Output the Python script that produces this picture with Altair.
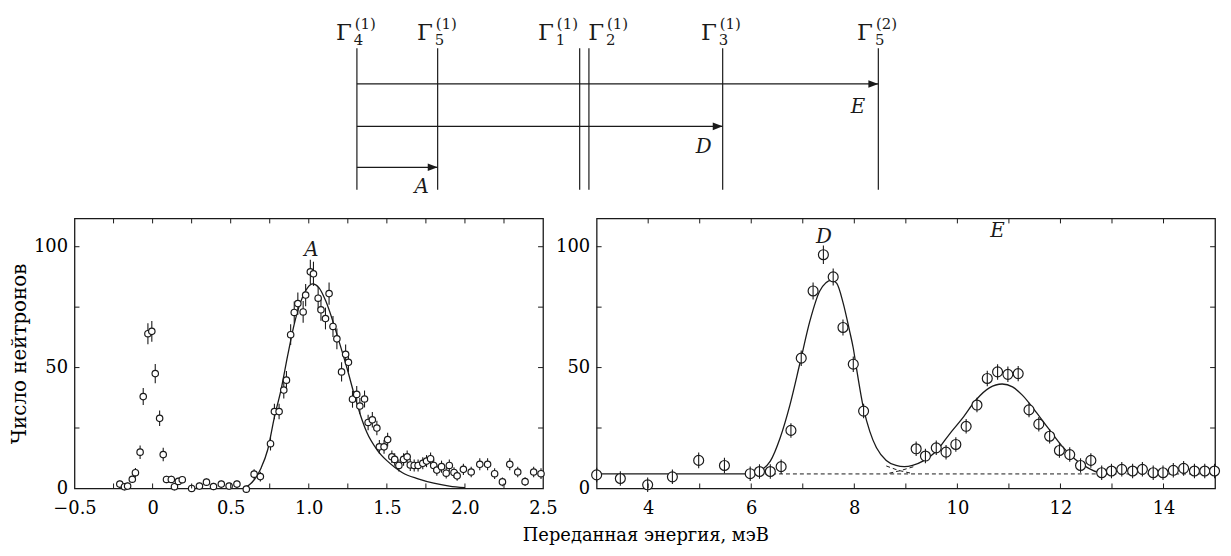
import altair as alt
import pandas as pd

FONT = "DejaVu Serif"

# ---------------- left panel (A) data ----------------
left_x = [-0.21, -0.18, -0.16, -0.13, -0.11, -0.08, -0.06, -0.03, -0.005, 0.017,
          0.045, 0.068, 0.089, 0.12, 0.14, 0.165, 0.19, 0.25, 0.30, 0.345,
          0.39, 0.44, 0.49, 0.54, 0.60, 0.65, 0.69, 0.755, 0.78, 0.81,
          0.84, 0.857, 0.884, 0.907, 0.93, 0.964, 0.98, 1.01, 1.03, 1.06,
          1.078, 1.107, 1.13, 1.155, 1.18, 1.21, 1.236, 1.254, 1.28, 1.307,
          1.327, 1.357, 1.38, 1.407, 1.436, 1.452, 1.482, 1.505, 1.532, 1.55,
          1.577, 1.607, 1.63, 1.65, 1.675, 1.70, 1.73, 1.754, 1.78, 1.80,
          1.82, 1.85, 1.88, 1.90, 1.93, 1.95, 1.99, 2.04, 2.095, 2.145,
          2.19, 2.24, 2.287, 2.338, 2.385, 2.44, 2.487]
left_y = [1.8, 0.7, 1.0, 3.8, 6.5, 15, 38, 64, 65, 47.5,
          29, 14, 3.7, 3.7, 0.7, 2.9, 3.6, 0, 1, 2.6,
          0.8, 1.8, 1, 1.8, -0.3, 5.9, 4.9, 18.5, 31.8, 31.8,
          40.7, 44.8, 63.6, 72.8, 76.5, 73, 80, 89.6, 88.8, 78.7,
          73.9, 70.3, 80.6, 67, 61.9, 48.2, 55.5, 52.2, 36.9, 38.9,
          34.1, 37, 27.3, 28.4, 25, 17.2, 17.2, 20.2, 13.1, 12,
          9.5, 12, 13.1, 9.7, 9.5, 9.5, 10.4, 11.3, 12.3, 9.5,
          7.6, 9, 6.3, 9.5, 6.6, 5.2, 7.9, 6.8, 10, 10,
          6.1, 2.7, 10, 6.8, 2.8, 6.8, 6.1]
left_err = [1.5, 1.5, 1.5, 1.5, 2, 2.8, 3.5, 4.3, 4.3, 4,
            3.2, 2.8, 1.5, 1.5, 1.5, 1.5, 1.5, 1.5, 1.5, 1.5,
            1.5, 1.5, 1.5, 1.5, 1.5, 2, 2, 2.8, 3.2, 3.2,
            3.5, 3.8, 4.3, 4.5, 4.6, 4.5, 4.6, 5, 5, 4.6,
            4.5, 4.5, 4.6, 4.3, 4.3, 4, 4, 4, 3.5, 3.5,
            3.3, 3.5, 3.2, 3.2, 3, 2.8, 2.8, 2.8, 2.6, 2.6,
            2.5, 2.6, 2.6, 2.5, 2.5, 2.5, 2.5, 2.5, 2.6, 2.5,
            2.3, 2.5, 2.2, 2.5, 2.2, 2, 2.3, 2.2, 2.5, 2.5,
            2.2, 1.8, 2.5, 2.2, 1.8, 2.2, 2.2]
fit_left_x = [0.58, 0.62, 0.653, 0.695, 0.737, 0.78, 0.823, 0.865, 0.907, 0.95,
              0.992, 1.024, 1.066, 1.109, 1.16, 1.2, 1.246, 1.289, 1.33, 1.373,
              1.437, 1.5, 1.55, 1.6, 1.7, 1.8, 1.9, 2.0]
fit_left_y = [0, 1.5, 3.8, 8.5, 16, 29.5, 41, 55, 68, 77.5,
              83, 84.6, 83, 77.5, 68, 59.5, 49.5, 39.3, 30.5, 23,
              16, 11.5, 8.8, 6.5, 4, 2.2, 1, 0.3]

# ---------------- right panel (D, E) data ----------------
right_x = [3.0, 3.46, 3.99, 4.47, 4.98, 5.48, 5.98, 6.16, 6.37, 6.58,
           6.77, 6.97, 7.2, 7.4, 7.59, 7.78, 7.98, 8.18,
           9.2, 9.38, 9.59, 9.78, 9.97, 10.17, 10.38, 10.58, 10.78, 10.98, 11.18,
           11.39, 11.58, 11.79, 11.98, 12.18, 12.39, 12.59,
           12.8, 12.99, 13.19, 13.4, 13.59, 13.8, 13.99, 14.19, 14.39, 14.6, 14.8, 14.99]
right_y = [5.6, 4.1, 1.5, 4.8, 11.6, 9.5, 6.1, 7, 7, 9,
           24, 53.9, 81.7, 96.7, 87.5, 66.6, 51.4, 32,
           16.4, 13.4, 16.8, 15, 18.2, 25.7, 34.5, 45.5, 48.2, 47.2, 47.5,
           32.5, 26.6, 21.6, 15.7, 14, 9.5, 11.6,
           6.5, 7.2, 7.9, 7.2, 7.9, 6.5, 6.5, 7.5, 8.3, 7.2, 7.2, 7.2]
right_err = [3, 3, 3, 3, 3.3, 3.2, 3, 3, 3, 3,
             3, 3.2, 3.5, 3.8, 3.5, 3.3, 3.2, 3,
             3, 3, 3, 3, 3, 3, 3, 3.2, 3.2, 3.2, 3.2,
             3, 3, 3, 3, 3, 3, 3,
             3, 3, 3, 3, 3, 3, 3, 3, 3, 3, 3, 3]
fit_right_x = [3.0, 6.0, 6.17, 6.37, 6.56, 6.75, 6.95, 7.14, 7.33, 7.56,
               7.66, 7.78, 7.91, 7.98, 8.04, 8.18, 8.3, 8.43, 8.62, 8.81,
               8.97, 9.13, 9.33, 9.59, 9.84, 10.1, 10.36, 10.62, 10.87, 11.07,
               11.26, 11.52, 11.77, 12.03, 12.29, 12.55, 12.74, 12.9]
fit_right_y = [6, 6, 7.2, 11.3, 20.9, 34.5, 52.3, 69.4, 81.7, 86.2,
               84.8, 77, 65, 58, 50, 33, 23.6, 16.8, 11.6, 9.5,
               9, 9.5, 11.3, 15.4, 22.3, 29.1, 36.6, 41.6, 43.2, 42,
               38.6, 31.8, 24.7, 17.5, 12, 8.3, 6.5, 6]
base_x = [6.0, 15.0]
base_y = [6, 6]
tailD_x = [8.62, 8.85, 9.1]
tailD_y = [9.3, 7.5, 6.3]
tailE_x = [8.68, 8.9, 9.15]
tailE_y = [6.3, 7.4, 9.0]

peak_left = {"t": ["A"], "x": [1.017], "y": [98.8]}
peak_right = {"t": ["D", "E"], "x": [7.41, 10.78], "y": [104.2, 106.3]}

# ---------------- level diagram data (schematic units) ----------------
lev_x = [0.0, 1.66, 4.58, 4.77, 7.52, 10.72]
lev_lab_x = [-0.084, 1.58, 4.07, 5.10, 7.42, 10.63]
lev_sup = ["(1)", "(1)", "(1)", "(1)", "(1)", "(2)"]
lev_sub = ["4", "5", "1", "2", "3", "5"]
lev_top, lev_bottom, lev_label_y = 9.5, 0.0, 10.07
arrow_name = ["E", "D", "A"]
arrow_y = [7.1, 4.25, 1.5]
arrow_end = [10.72, 7.52, 1.66]
arrow_lab_x = [10.30, 7.13, 1.33]
arrow_lab_y = [5.57, 2.87, 0.2]

W1, W2, H = 472, 623, 272
YDOM = [0, 111.7]
INK = "#1a1a1a"


def panel(xs, ys, errs, fx, fy, xdom, xvals, xticks, W, ptsize, bars_on_top,
          peaks, yaxis_title, xaxis_title, labelexpr, extra_lines=()):
    xsc = alt.Scale(domain=xdom, nice=False, zero=False)
    ysc = alt.Scale(domain=YDOM, nice=False, zero=False)
    df = pd.DataFrame({"x": xs, "y": ys, "e": errs})
    df["lo"] = df["y"] - df["e"]
    df["hi"] = df["y"] + df["e"]
    xaxis_kw = dict(values=xvals, ticks=False, domain=False, grid=False,
                    labelFont=FONT, labelFontSize=18, labelColor="black",
                    labelPadding=11, labelFlush=False, labelOverlap=False,
                    labelExpr=labelexpr)
    if xaxis_title:
        xaxis_kw.update(title=xaxis_title, titleFont=FONT, titleFontSize=18,
                        titleFontWeight="normal", titleColor="black",
                        titlePadding=9, titleX=644 - 595)
    else:
        xaxis_kw.update(title=None)
    yaxis_kw = dict(values=[0, 50, 100], ticks=False, domain=False, grid=False,
                    labelFont=FONT, labelFontSize=18, labelColor="black",
                    labelPadding=7, labelFlush=False, labelOverlap=False, format="d")
    if yaxis_title:
        yaxis_kw.update(title=yaxis_title, titleFont=FONT, titleFontSize=20,
                        titleFontWeight="normal", titleColor="black", titlePadding=4)
    else:
        yaxis_kw.update(title=None)

    pts = alt.Chart(df).mark_circle(size=ptsize, fill="white", stroke=INK,
                                    strokeWidth=1.2, opacity=1).encode(
        x=alt.X("x:Q", scale=xsc, axis=alt.Axis(**xaxis_kw)),
        y=alt.Y("y:Q", scale=ysc, axis=alt.Axis(**yaxis_kw)),
    )
    bars = alt.Chart(df).mark_rule(color=INK, strokeWidth=1.1).encode(
        x=alt.X("x:Q", scale=xsc), y=alt.Y("lo:Q", scale=ysc), y2="hi:Q")
    fit = alt.Chart(pd.DataFrame({"x": fx, "y": fy})).mark_line(
        color=INK, strokeWidth=1.3, interpolate="monotone").encode(
        x=alt.X("x:Q", scale=xsc), y=alt.Y("y:Q", scale=ysc))
    layers = []
    for (lx, ly) in extra_lines:
        layers.append(alt.Chart(pd.DataFrame({"x": lx, "y": ly})).mark_line(
            color=INK, strokeWidth=1, strokeDash=[4, 3]).encode(
            x=alt.X("x:Q", scale=xsc), y=alt.Y("y:Q", scale=ysc)))
    layers.append(fit)
    if bars_on_top:
        layers += [pts, bars]
    else:
        layers += [bars, pts]
    lab = alt.Chart(pd.DataFrame(peaks)).mark_text(
        font=FONT, fontSize=20, fontStyle="italic", color=INK,
        align="center", baseline="middle").encode(
        x=alt.X("x:Q", scale=xsc), y=alt.Y("y:Q", scale=ysc), text="t:N")
    layers.append(lab)
    tdf = pd.DataFrame({"t": xticks})
    ydf = pd.DataFrame({"t": [25, 50, 75, 100]})
    tk = dict(color=INK, strokeWidth=1)
    layers += [
        alt.Chart(tdf).mark_rule(**tk).encode(x=alt.X("t:Q", scale=xsc),
                                             y=alt.value(0), y2=alt.value(5)),
        alt.Chart(tdf).mark_rule(**tk).encode(x=alt.X("t:Q", scale=xsc),
                                             y=alt.value(H), y2=alt.value(H - 5)),
        alt.Chart(ydf).mark_rule(**tk).encode(y=alt.Y("t:Q", scale=ysc),
                                             x=alt.value(0), x2=alt.value(5)),
        alt.Chart(ydf).mark_rule(**tk).encode(y=alt.Y("t:Q", scale=ysc),
                                             x=alt.value(W - 5), x2=alt.value(W)),
    ]
    return alt.layer(*layers).properties(width=W, height=H)


left = panel(left_x, left_y, left_err, fit_left_x, fit_left_y, [-0.5, 2.5],
             [-0.5, 0, 0.5, 1.0, 1.5, 2.0, 2.5],
             [-0.25, 0, 0.25, 0.5, 0.75, 1.0, 1.25, 1.5, 1.75, 2.0, 2.25],
             W1, 42, False, peak_left, "Число нейтронов", None,
             "datum.value == 0 ? '0' : replace(format(datum.value, '.1f'), '-', '\u2212')")
right = panel(right_x, right_y, right_err, fit_right_x, fit_right_y, [3, 15],
              [4, 6, 8, 10, 12, 14], [4, 5, 6, 7, 8, 9, 10, 11, 12, 13, 14],
              W2, 100, True, peak_right, None, "Переданная энергия, мэВ",
              "format(datum.value, 'd')",
              extra_lines=[(base_x, base_y), (tailD_x, tailD_y), (tailE_x, tailE_y)])

# ---------------- level diagram ----------------
DW, DH = 1149, 180
dxs = alt.Scale(domain=[-5.806, 17.643], nice=False, zero=False)
dys = alt.Scale(domain=[0, 12], nice=False, zero=False)
lev = pd.DataFrame({"x": lev_x, "lx": lev_lab_x, "sup": lev_sup, "sub": lev_sub,
                    "b": [lev_bottom] * 6, "t": [lev_top] * 6, "ly": [lev_label_y] * 6,
                    "G": ["Γ"] * 6})
arr = pd.DataFrame({"n": arrow_name, "y": arrow_y, "x0": [0.0] * 3, "x1": arrow_end,
                    "lx": arrow_lab_x, "ly": arrow_lab_y})

vlines = alt.Chart(lev).mark_rule(color=INK, strokeWidth=1.2).encode(
    x=alt.X("x:Q", scale=dxs, axis=None), y=alt.Y("b:Q", scale=dys, axis=None), y2="t:Q")
hlines = alt.Chart(arr).mark_rule(color=INK, strokeWidth=1.2).encode(
    x=alt.X("x0:Q", scale=dxs, axis=None), x2="x1:Q", y=alt.Y("y:Q", scale=dys, axis=None))
heads = alt.Chart(arr).mark_point(
    shape="M -1 -0.38 L 0 0 L -1 0.38 Z", size=400, filled=True, color=INK,
    opacity=1, strokeWidth=0).encode(
    x=alt.X("x1:Q", scale=dxs, axis=None), y=alt.Y("y:Q", scale=dys, axis=None))
alabels = alt.Chart(arr).mark_text(font=FONT, fontSize=20, fontStyle="italic",
                                   color=INK, align="center", baseline="middle").encode(
    x=alt.X("lx:Q", scale=dxs, axis=None), y=alt.Y("ly:Q", scale=dys, axis=None), text="n:N")
gam = alt.Chart(lev).mark_text(font=FONT, fontSize=23, color=INK, align="right",
                               baseline="alphabetic", dx=-1).encode(
    x=alt.X("lx:Q", scale=dxs, axis=None), y=alt.Y("ly:Q", scale=dys, axis=None), text="G:N")
sup = alt.Chart(lev).mark_text(font=FONT, fontSize=15, color=INK, align="left",
                               baseline="alphabetic", dx=2, dy=-11).encode(
    x=alt.X("lx:Q", scale=dxs, axis=None), y=alt.Y("ly:Q", scale=dys, axis=None), text="sup:N")
sub = alt.Chart(lev).mark_text(font=FONT, fontSize=15, color=INK, align="left",
                               baseline="alphabetic", dx=1, dy=5).encode(
    x=alt.X("lx:Q", scale=dxs, axis=None), y=alt.Y("ly:Q", scale=dys, axis=None), text="sub:N")

diagram = alt.layer(vlines, hlines, heads, alabels, gam, sup, sub).properties(
    width=DW, height=DH, view=alt.ViewBackground(stroke="transparent"))

panels = alt.hconcat(left, right, spacing=54, bounds="flush")
chart = alt.vconcat(diagram, panels, spacing=29, bounds="flush").properties(
    padding={"left": 0, "top": 0, "right": 0, "bottom": 0},
    background="white",
).configure_view(stroke=INK, strokeWidth=1.3)

chart.save("out.html", embed_options={"renderer": "svg", "actions": False})
